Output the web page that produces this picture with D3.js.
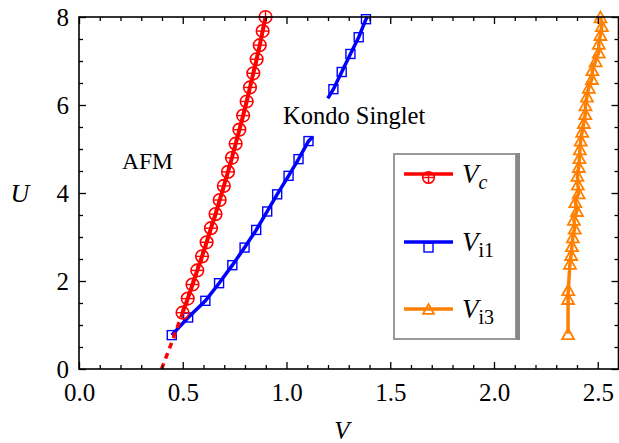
<!DOCTYPE html>
<html>
<head>
<meta charset="utf-8">
<script src="https://cdn.jsdelivr.net/npm/d3@7"></script>
<style>
  body { margin: 0; background: #fff; }
  svg { display: block; }
  svg text { font-family: "Liberation Serif", "Times New Roman", "DejaVu Serif", serif; fill: #000; }
</style>
</head>
<body>
<div id="chart"></div>
<script>
// Vc (red, circles)
var vcU = [8.00, 7.68, 7.36, 7.04, 6.72, 6.40, 6.08, 5.76, 5.44, 5.12, 4.80, 4.48, 4.16, 3.84, 3.52, 3.20, 2.88, 2.56, 2.24, 1.92, 1.60, 1.28];
var vcV = [0.899, 0.885, 0.871, 0.856, 0.840, 0.824, 0.808, 0.791, 0.773, 0.755, 0.737, 0.718, 0.698, 0.678, 0.658, 0.636, 0.615, 0.593, 0.570, 0.547, 0.524, 0.499];
// dashed extrapolation of Vc down to U = 0
var vcExtU = [0, 0.64, 1.28];
var vcExtV = [0.398, 0.450, 0.499];

// Vi1 (blue, squares) - two pieces
var vi1aU = [0.77, 1.17, 1.55, 1.95, 2.36, 2.76, 3.16, 3.58, 3.97, 4.39, 4.77, 5.18, 5.27];
var vi1aV = [0.447, 0.526, 0.609, 0.675, 0.739, 0.798, 0.854, 0.907, 0.955, 1.010, 1.058, 1.106, 1.126];
var vi1aMark = [1, 1, 1, 1, 1, 1, 1, 1, 1, 1, 1, 1, 0];
var vi1bU = [6.15, 6.36, 6.75, 7.16, 7.54, 7.95, 8.00];
var vi1bV = [1.199, 1.226, 1.266, 1.308, 1.348, 1.383, 1.390];
var vi1bMark = [0, 1, 1, 1, 1, 1, 0];

// Vi3 (orange, triangles)
var vi3U = [0.80, 1.60, 1.80, 2.40, 2.60, 2.80, 3.00, 3.20, 3.40, 3.60, 3.80, 4.00, 4.20, 4.40, 4.60, 4.80, 5.00, 5.20, 5.40, 5.60, 5.80, 6.00, 6.20, 6.40, 6.60, 6.80, 7.00, 7.20, 7.40, 7.60, 7.80, 8.00];
var vi3V = [2.357, 2.357, 2.358, 2.366, 2.372, 2.376, 2.380, 2.389, 2.385, 2.400, 2.392, 2.408, 2.404, 2.402, 2.409, 2.412, 2.414, 2.418, 2.425, 2.433, 2.440, 2.441, 2.448, 2.457, 2.472, 2.474, 2.490, 2.505, 2.505, 2.513, 2.520, 2.513];

var xTicks = [0, 0.5, 1.0, 1.5, 2.0, 2.5];
var yTicks = [0, 2, 4, 6, 8];
var legendNames = ["c", "i1", "i3"];

var width = 619, height = 443;
var margin = {left: 79, right: 0, top: 17, bottom: 74};
var serif = "Liberation Serif, Times New Roman, DejaVu Serif, serif";

var svg = d3.select("#chart").append("svg")
  .attr("width", width)
  .attr("height", height);

var x = d3.scaleLinear().domain([0, 2.6]).range([margin.left, width - margin.right - 0.5]);
var y = d3.scaleLinear().domain([0, 8]).range([height - margin.bottom, margin.top]);

function zip(us, vs) {
  return us.map(function (u, i) { return {u: u, v: vs[i]}; });
}

var line = d3.line().x(function (d) { return x(d.v); }).y(function (d) { return y(d.u); });

// AXES (ticks inward, mirrored on top/right)
var minorX = d3.range(0, 2.61, 0.1).filter(function (t) { return Math.abs(t * 2 - Math.round(t * 2)) > 1e-6; });
var minorY = d3.range(0, 8.01, 0.5).filter(function (t) { return Math.abs(t - Math.round(t / 2) * 2) > 1e-6; });

var plotG = svg.append("g");

function noDomain(g) { g.select(".domain").remove(); g.attr("font-family", serif); }

svg.append("g").attr("transform", "translate(0," + y(0) + ")")
  .call(d3.axisBottom(x).tickValues(xTicks).tickSizeInner(-7).tickSizeOuter(0).tickPadding(14).tickFormat(d3.format(".1f")))
  .call(noDomain);
svg.append("g").attr("transform", "translate(0," + y(0) + ")")
  .call(d3.axisBottom(x).tickValues(minorX).tickSize(-4).tickFormat(""))
  .call(noDomain);
svg.append("g").attr("transform", "translate(0," + y(8) + ")")
  .call(d3.axisTop(x).tickValues(xTicks).tickSize(-7).tickFormat(""))
  .call(noDomain);
svg.append("g").attr("transform", "translate(0," + y(8) + ")")
  .call(d3.axisTop(x).tickValues(minorX).tickSize(-4).tickFormat(""))
  .call(noDomain);

svg.append("g").attr("transform", "translate(" + x(0) + ",0)")
  .call(d3.axisLeft(y).tickValues(yTicks).tickSizeInner(-7).tickSizeOuter(0).tickPadding(10).tickFormat(d3.format("d")))
  .call(noDomain);
svg.append("g").attr("transform", "translate(" + x(0) + ",0)")
  .call(d3.axisLeft(y).tickValues(minorY).tickSize(-4).tickFormat(""))
  .call(noDomain);
svg.append("g").attr("transform", "translate(" + x(2.6) + ",0)")
  .call(d3.axisRight(y).tickValues(yTicks).tickSize(-7).tickFormat(""))
  .call(noDomain);
svg.append("g").attr("transform", "translate(" + x(2.6) + ",0)")
  .call(d3.axisRight(y).tickValues(minorY).tickSize(-4).tickFormat(""))
  .call(noDomain);

svg.selectAll(".tick line").attr("stroke", "#000").attr("stroke-width", 1.3);
svg.selectAll(".tick text").style("font-size", "25px");

svg.append("rect")
  .attr("x", x(0)).attr("y", y(8))
  .attr("width", x(2.6) - x(0)).attr("height", y(0) - y(8))
  .attr("fill", "none").attr("stroke", "#000").attr("stroke-width", 1.6);

// axis titles
svg.append("text").attr("x", 342).attr("y", 439).attr("text-anchor", "middle")
  .style("font-size", "25px").style("font-style", "italic").text("V");
svg.append("text").attr("x", 20).attr("y", 202).attr("text-anchor", "middle")
  .style("font-size", "26px").style("font-style", "italic").text("U");

// annotations
svg.append("text").attr("x", 122).attr("y", 169).style("font-size", "23.5px").text("AFM");
svg.append("text").attr("x", 283).attr("y", 124).style("font-size", "24.5px").text("Kondo Singlet");

// MARKERS
function circleMark(g, cx, cy, r) {
  g.append("circle").attr("cx", cx).attr("cy", cy).attr("r", r)
    .attr("fill", "none").attr("stroke", "#ff0000").attr("stroke-width", 1.6);
  g.append("line").attr("x1", cx - r).attr("x2", cx + r).attr("y1", cy).attr("y2", cy)
    .attr("stroke", "#ff0000").attr("stroke-width", 1.4);
  g.append("line").attr("x1", cx).attr("x2", cx).attr("y1", cy - r).attr("y2", cy + r)
    .attr("stroke", "#ff0000").attr("stroke-width", 1.4);
}
function squareMark(g, cx, cy, s) {
  g.append("rect").attr("x", cx - s / 2).attr("y", cy - s / 2).attr("width", s).attr("height", s)
    .attr("fill", "none").attr("stroke", "#0000ff").attr("stroke-width", 1.4);
}
function triMark(g, cx, cy, s) {
  var h = s * 0.9;
  g.append("path")
    .attr("d", "M" + cx + "," + (cy - h / 2) + "L" + (cx + s / 2) + "," + (cy + h / 2) + "L" + (cx - s / 2) + "," + (cy + h / 2) + "Z")
    .attr("fill", "none").attr("stroke", "#ff8000").attr("stroke-width", 1.8).attr("stroke-linejoin", "miter");
}

// Vi3 orange
var vi3 = zip(vi3U, vi3V);
plotG.append("path").datum(vi3).attr("d", line)
  .attr("fill", "none").attr("stroke", "#ff8000").attr("stroke-width", 3.5);
vi3.forEach(function (d) { triMark(plotG, x(d.v), y(d.u), 12); });

// Vi1 blue
[[vi1aU, vi1aV, vi1aMark], [vi1bU, vi1bV, vi1bMark]].forEach(function (s) {
  var pts = zip(s[0], s[1]);
  plotG.append("path").datum(pts).attr("d", line)
    .attr("fill", "none").attr("stroke", "#0000ff").attr("stroke-width", 3.5);
  pts.forEach(function (d, i) { if (s[2][i]) squareMark(plotG, x(d.v), y(d.u), 9); });
});

// Vc red
plotG.append("path").datum(zip(vcExtU, vcExtV)).attr("d", line)
  .attr("fill", "none").attr("stroke", "#ff0000").attr("stroke-width", 3.5).attr("stroke-dasharray", "6,5");
var vc = zip(vcU, vcV);
plotG.append("path").datum(vc).attr("d", line)
  .attr("fill", "none").attr("stroke", "#ff0000").attr("stroke-width", 4);
vc.forEach(function (d) { circleMark(plotG, x(d.v), y(d.u), 6.3); });

// LEGEND
var lg = svg.append("g");
lg.append("rect").attr("x", 394).attr("y", 154).attr("width", 122).attr("height", 185)
  .attr("fill", "#fff").attr("stroke", "#999").attr("stroke-width", 2);
lg.append("rect").attr("x", 516).attr("y", 153).attr("width", 4).attr("height", 187).attr("fill", "#888");

var legY = [174, 242, 309];
var legColors = ["#ff0000", "#0000ff", "#ff8000"];
legY.forEach(function (ly, i) {
  lg.append("line").attr("x1", 404).attr("x2", 453).attr("y1", ly).attr("y2", ly)
    .attr("stroke", legColors[i]).attr("stroke-width", 3.5);
  if (i === 0) circleMark(lg, 428.5, ly + 3.5, 5.8);
  if (i === 1) squareMark(lg, 428.5, ly + 5.5, 9);
  if (i === 2) triMark(lg, 428.5, ly, 11);
  var t = lg.append("text").attr("x", 462).attr("y", ly + 9).style("font-size", "27px");
  t.append("tspan").style("font-style", "italic").text("V");
  t.append("tspan").attr("dy", 6).style("font-size", "20px")
    .style("font-style", i === 0 ? "italic" : "normal").text(legendNames[i]);
});
</script>
</body>
</html>
